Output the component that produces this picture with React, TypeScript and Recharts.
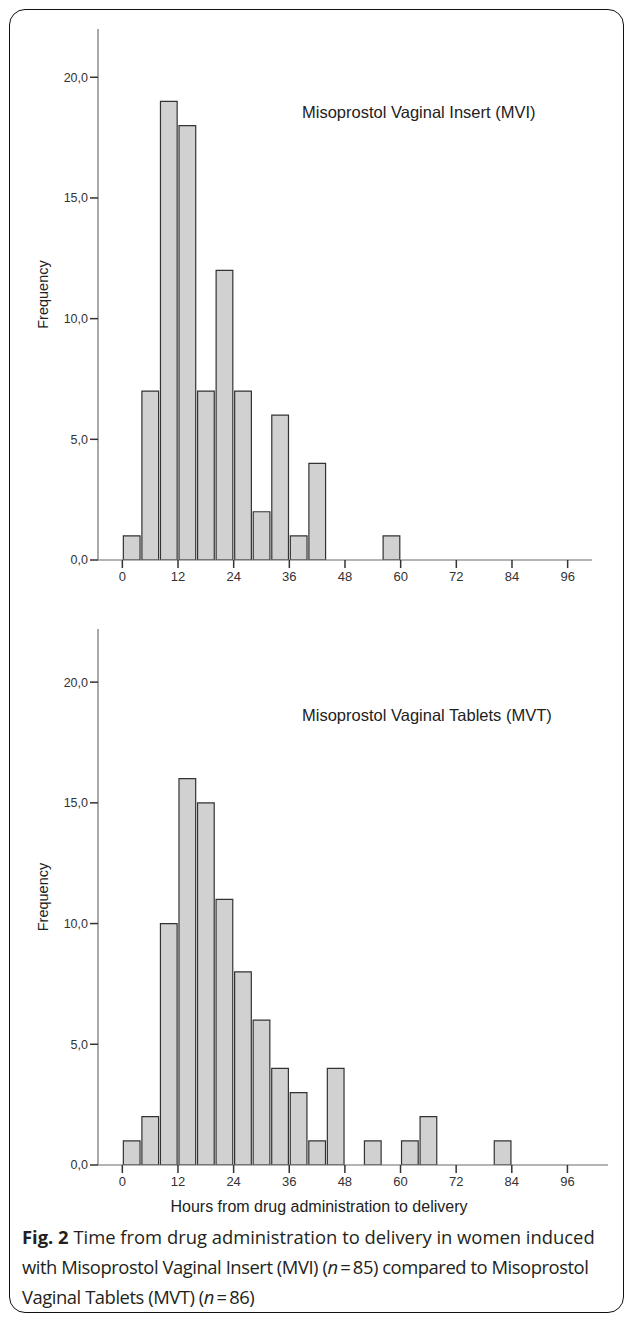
import React from 'react';
import { BarChart, Bar, XAxis, YAxis, Label } from 'recharts';

// histogram bins are 4 hours wide, bin start values
const binStarts = [0, 4, 8, 12, 16, 20, 24, 28, 32, 36, 40, 44, 48, 52, 56, 60, 64, 68, 72, 76, 80];
const mviCounts = [1, 7, 19, 18, 7, 12, 7, 2, 6, 1, 4, 0, 0, 0, 1, 0, 0, 0, 0, 0, 0];
const mvtCounts = [1, 2, 10, 16, 15, 11, 8, 6, 4, 3, 1, 4, 0, 1, 0, 1, 2, 0, 0, 0, 1];

const hourTicks = [0, 12, 24, 36, 48, 60, 72, 84, 96];
const freqTicks = [0, 5, 10, 15, 20];

const BIN_WIDTH = 4;
const FONT = '"Liberation Sans", Arial, sans-serif';

const mviData = binStarts.map((s, i) => ({ mid: s + BIN_WIDTH / 2, count: mviCounts[i] }));
const mvtData = binStarts.map((s, i) => ({ mid: s + BIN_WIDTH / 2, count: mvtCounts[i] }));

const fmt = (v: number) => v.toFixed(1).replace('.', ',');

function FreqLabel(props: any) {
    const { viewBox } = props;
    const cy = viewBox.y + viewBox.height / 2;
    const cx = 43;
    return (
        <text
            x={cx}
            y={cy}
            transform={`rotate(-90, ${cx}, ${cy})`}
            textAnchor="middle"
            dominantBaseline="central"
            fontSize={14.5}
            fill="#222"
            fontFamily={FONT}
        >
            Frequency
        </text>
    );
}

interface HistProps {
    data: { mid: number; count: number }[];
    xMax: number;
    marginRight: number;
    marginBottom: number;
    yMax: number;
    title: string;
    titleTop: number;
}

function Histogram({ data, xMax, marginRight, marginBottom, yMax, title, titleTop }: HistProps) {
    const width = 627;
    const height = 600;
    const left = 98;
    const xMin = -5.25;
    const plotW = width - left - marginRight;
    const barSize = (plotW / (xMax - xMin)) * BIN_WIDTH;

    return (
        <div style={{ position: 'relative', width, height }}>
            <BarChart
                width={width}
                height={height}
                data={data}
                margin={{ top: 29, right: marginRight, left: 38, bottom: marginBottom }}
                barCategoryGap={0}
                barGap={0}
            >
                <XAxis
                    dataKey="mid"
                    type="number"
                    domain={[xMin, xMax]}
                    allowDataOverflow
                    ticks={hourTicks}
                    interval={0}
                    height={30}
                    tickSize={8}
                    tickMargin={4}
                    axisLine={{ stroke: '#6b6b6b', strokeWidth: 1.2 }}
                    tickLine={{ stroke: '#333', strokeWidth: 1.5 }}
                    tick={{ fontSize: 13, fill: '#333', fontFamily: FONT }}
                />
                <YAxis
                    type="number"
                    domain={[0, yMax]}
                    allowDataOverflow
                    ticks={freqTicks}
                    interval={0}
                    width={60}
                    tickSize={8}
                    tickMargin={2}
                    tickFormatter={fmt}
                    axisLine={{ stroke: '#8c8c8c', strokeWidth: 1.5 }}
                    tickLine={{ stroke: '#333', strokeWidth: 1.5 }}
                    tick={{ fontSize: 12.5, fill: '#333', fontFamily: FONT }}
                >
                    <Label content={<FreqLabel />} />
                </YAxis>
                <Bar
                    dataKey="count"
                    barSize={barSize}
                    fill="#d1d1d1"
                    stroke="#333"
                    strokeWidth={1.2}
                    isAnimationActive={false}
                />
            </BarChart>
            <div
                style={{
                    position: 'absolute',
                    left: 302,
                    top: titleTop,
                    fontFamily: FONT,
                    fontSize: 16.5,
                    color: '#222',
                    whiteSpace: 'nowrap',
                    lineHeight: '18px',
                }}
            >
                {title}
            </div>
        </div>
    );
}

export default function App() {
    return (
        <div
            style={{
                position: 'absolute',
                left: 0,
                top: 0,
                width: 627,
                height: 1320,
                background: '#fff',
                overflow: 'hidden',
            }}
        >
            <div
                style={{
                    position: 'absolute',
                    left: 9,
                    top: 9,
                    width: 613,
                    height: 1302,
                    border: '1.5px solid #111',
                    borderRadius: 16,
                }}
            />
            <div style={{ position: 'absolute', left: 0, top: 0 }}>
                <Histogram
                    data={mviData}
                    xMax={101.25}
                    marginRight={35}
                    marginBottom={10}
                    yMax={22}
                    title="Misoprostol Vaginal Insert (MVI)"
                    titleTop={103}
                />
            </div>
            <div style={{ position: 'absolute', left: 0, top: 600 }}>
                <Histogram
                    data={mvtData}
                    xMax={104.75}
                    marginRight={19}
                    marginBottom={5}
                    yMax={22.2}
                    title="Misoprostol Vaginal Tablets (MVT)"
                    titleTop={106}
                />
            </div>
            <div
                style={{
                    position: 'absolute',
                    left: 0,
                    width: 638,
                    top: 1198,
                    textAlign: 'center',
                    fontFamily: FONT,
                    fontSize: 16,
                    color: '#222',
                    lineHeight: '18px',
                }}
            >
                Hours from drug administration to delivery
            </div>
            <div
                style={{
                    position: 'absolute',
                    left: 22,
                    top: 1222,
                    width: 600,
                    fontFamily: '"Open Sans", sans-serif',
                    fontSize: 18.4,
                    lineHeight: '30px',
                    color: '#231f20',
                }}
            >
                <div style={{ whiteSpace: 'nowrap' }}>
                    <b>Fig. 2</b> Time from drug administration to delivery in women induced
                </div>
                <div style={{ whiteSpace: 'nowrap', letterSpacing: -0.45 }}>
                    with Misoprostol Vaginal Insert (MVI) (<i>n</i>{'\u2009=\u2009'}85) compared to Misoprostol
                </div>
                <div style={{ whiteSpace: 'nowrap', letterSpacing: -0.45 }}>
                    Vaginal Tablets (MVT) (<i>n</i>{'\u2009=\u2009'}86)
                </div>
            </div>
        </div>
    );
}
